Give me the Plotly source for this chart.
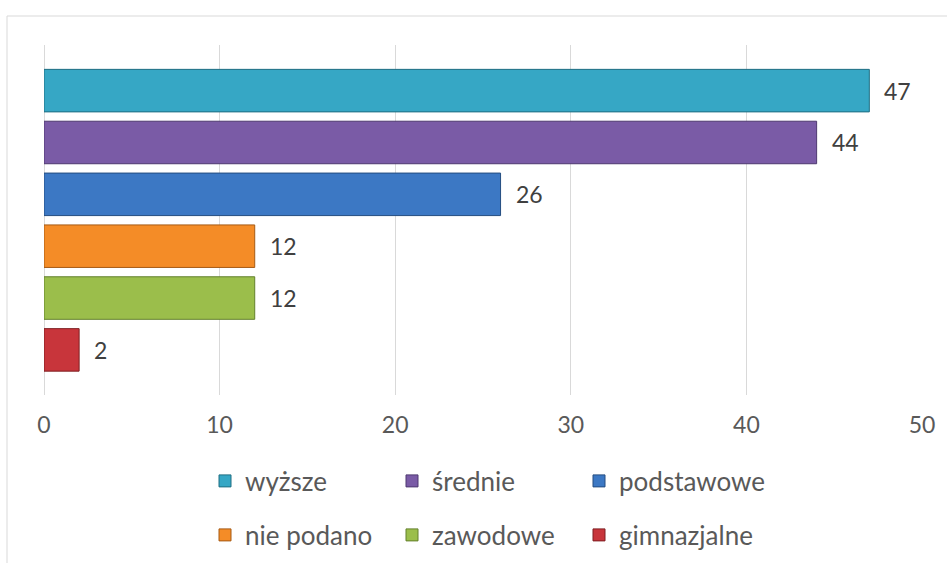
import plotly.graph_objects as go

categories = ["wyższe", "średnie", "podstawowe", "nie podano", "zawodowe", "gimnazjalne"]
values = [47, 44, 26, 12, 12, 2]
colors = ["#36A7C5", "#7A5BA6", "#3C78C4", "#F48C27", "#9BBE4B", "#C8353B"]
outlines = ["#1F6E82", "#4E3870", "#244D80", "#A65A14", "#63802C", "#7F1F22"]
legend_groups = ["legend", "legend", "legend", "legend2", "legend2", "legend2"]
x_ticks = [0, 10, 20, 30, 40, 50]

FONT = "Lato"
H = 563

fig = go.Figure()
for cat, val, col, oc, lg in zip(categories, values, colors, outlines, legend_groups):
    fig.add_trace(go.Bar(
        x=[val], y=[cat], name=cat, orientation="h",
        marker=dict(color=col, line=dict(color=oc, width=1)),
        width=0.82, legend=lg, hoverinfo="skip",
    ))
    fig.add_annotation(
        x=val, y=cat, text=str(val), showarrow=False,
        xanchor="left", yanchor="middle", xshift=13,
        font=dict(family=FONT, size=23, color="#404040"),
    )

fig.update_layout(
    width=947, height=H,
    margin=dict(l=44, r=25, t=45, b=168, autoexpand=False),
    paper_bgcolor="white", plot_bgcolor="white",
    barmode="overlay",
    font=dict(family=FONT, color="#595959"),
    xaxis=dict(
        range=[0, 50], tickvals=x_ticks, showgrid=True, gridcolor="#D9D9D9", gridwidth=1,
        zeroline=True, zerolinecolor="#D9D9D9", zerolinewidth=1, showline=False,
        tickfont=dict(family=FONT, size=23, color="#595959"),
        ticks="", ticklabelstandoff=14, fixedrange=True, automargin=False,
    ),
    yaxis=dict(
        categoryorder="array", categoryarray=categories,
        range=[5.87, -0.88], showticklabels=False, showgrid=False, zeroline=False,
        showline=False, ticks="", fixedrange=True, automargin=False,
    ),
    legend=dict(
        orientation="h", x=(205 - 44) / 878, xanchor="left",
        yref="container", y=1 - 481 / H, yanchor="middle",
        entrywidth=142, entrywidthmode="pixels",
        font=dict(family=FONT, size=26, color="#595959"),
        bgcolor="rgba(0,0,0,0)", borderwidth=0, traceorder="normal",
    ),
    legend2=dict(
        orientation="h", x=(205 - 44) / 878, xanchor="left",
        yref="container", y=1 - 535 / H, yanchor="middle",
        entrywidth=142, entrywidthmode="pixels",
        font=dict(family=FONT, size=26, color="#595959"),
        bgcolor="rgba(0,0,0,0)", borderwidth=0, traceorder="normal",
    ),
    shapes=[dict(
        type="rect", xref="paper", yref="paper",
        x0=(7 - 44) / 878, x1=1.2, y0=-1.0, y1=(395 - 16) / 350,
        line=dict(color="#D9D9D9", width=1), fillcolor="rgba(0,0,0,0)", layer="below",
    )],
)

fig.write_html(
    "out.html",
    config={"displayModeBar": False},
    post_script="document.body.style.margin='0px';document.body.style.overflow='hidden';",
)
